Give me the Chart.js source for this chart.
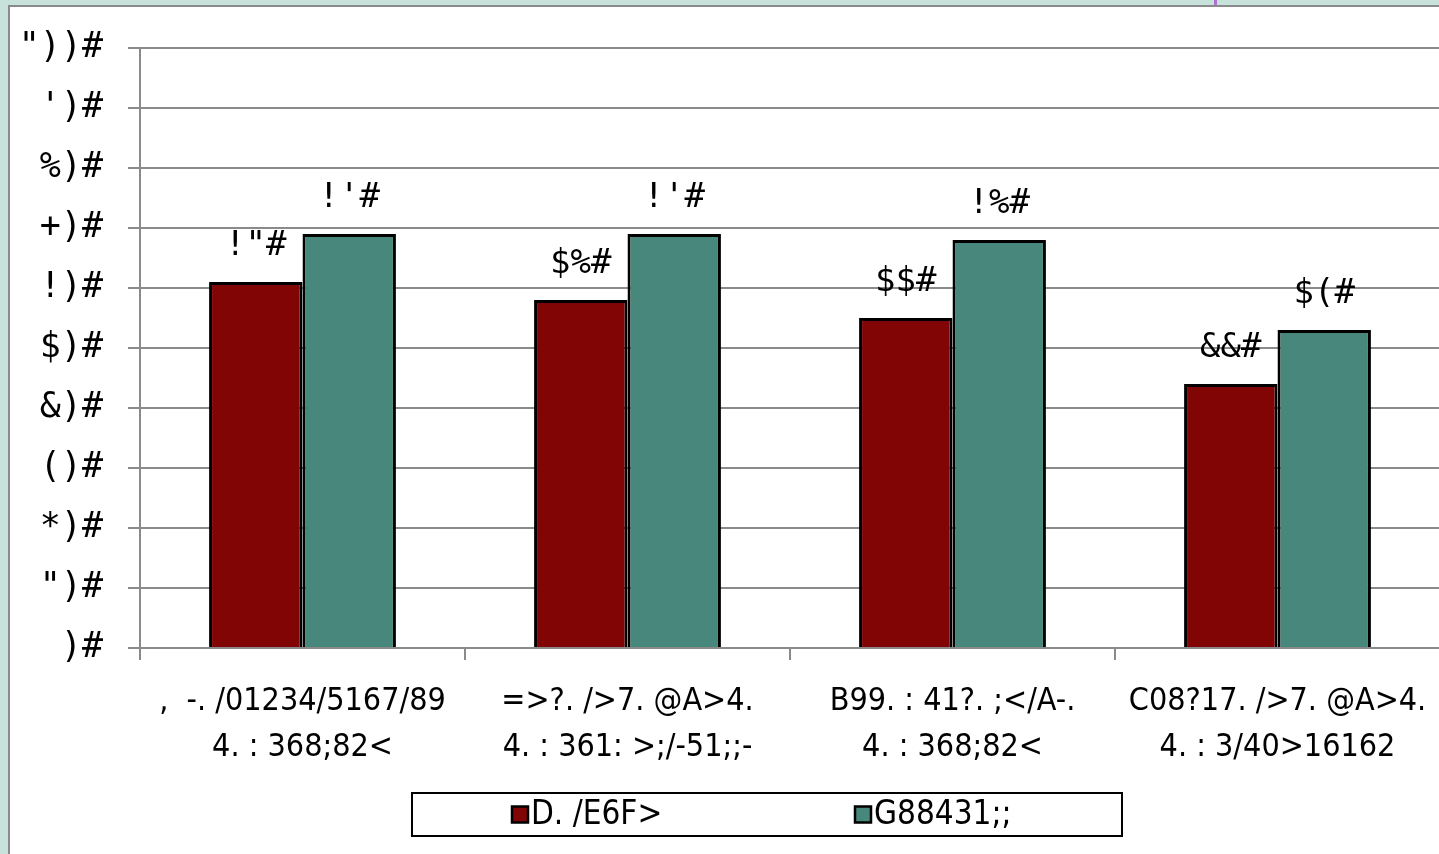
<!DOCTYPE html>
<html>
<head>
<meta charset="utf-8">
<script src="https://cdn.jsdelivr.net/npm/chart.js@4"></script>
<style>
    html, body { margin: 0; padding: 0; overflow: hidden; }
    body { background: #c6e2da; width: 1439px; height: 854px; position: relative; }
    #frame {
        position: absolute; left: 8px; top: 5px; width: 1440px; height: 860px;
        background: #fff; border-left: 2px solid #8a8a8a; border-top: 2px solid #8a8a8a;
    }
    #mark { position: absolute; left: 1214px; top: 0; width: 3px; height: 5px; background: #b070d0; }
    #gradeChart { position: absolute; left: 0; top: 0; }
</style>
</head>
<body>
<div id="mark"></div>
<div id="frame"><canvas id="gradeChart" width="1430" height="847"></canvas></div>
<script>
// values (percent)
const categories = [
    [',  -. /01234/5167/89', '4. : 368;82<'],
    ['=>?. />7. @A>4.', '4. : 361: >;/-51;;-'],
    ['B99. : 41?. ;</A-.', '4. : 368;82<'],
    ['C08?17. />7. @A>4.', '4. : 3/40>16162']
];
const seriesNames = ['D. /E6F>', 'G88431;;'];
const redValues = [61, 58, 55, 44];
const greenValues = [69, 69, 68, 53];
const yMin = 0, yMax = 100, yStep = 10;

// the source font maps digits to these glyphs, '%' shows as '#'
const digitGlyphs = [')', '"', '*', '(', '&', '$', '!', '+', '%', "'"];
function encode(n) {
    return String(n).split('').map(d => digitGlyphs[+d]).join('') + '#';
}

const labelFont = '"DejaVu Sans Condensed", "DejaVu Sans", sans-serif';
const numFont = '"DejaVu Sans Mono", monospace';

const valueLabels = {
    id: 'valueLabels',
    afterDatasetsDraw(chart) {
        const ctx = chart.ctx;
        ctx.save();
        ctx.font = '34px ' + numFont;
        ctx.fillStyle = '#000';
        ctx.textAlign = 'center';
        ctx.textBaseline = 'middle';
        chart.data.datasets.forEach((ds, i) => {
            chart.getDatasetMeta(i).data.forEach((bar, j) => {
                ctx.fillText(encode(ds.data[j]), bar.x, bar.y - 36);
            });
        });
        ctx.restore();
    }
};

const boxedLegend = {
    id: 'boxedLegend',
    afterDraw(chart) {
        const ctx = chart.ctx;
        const box = { x: 402, y: 786, w: 710, h: 43 };
        const itemX = [100, 443];
        ctx.save();
        ctx.strokeStyle = '#000';
        ctx.lineWidth = 2;
        ctx.strokeRect(box.x, box.y, box.w, box.h);
        ctx.font = 'condensed 33px ' + labelFont;
        ctx.textBaseline = 'middle';
        ctx.textAlign = 'left';
        chart.data.datasets.forEach((ds, i) => {
            const x = box.x + itemX[i];
            const cy = box.y + box.h / 2;
            ctx.fillStyle = ds.backgroundColor;
            ctx.fillRect(x, cy - 8, 16, 16);
            ctx.lineWidth = 2.5;
            ctx.strokeRect(x, cy - 8, 16, 16);
            ctx.fillStyle = '#000';
            ctx.fillText(ds.label, x + 19, cy + 1);
        });
        ctx.restore();
    }
};

const ctx = document.getElementById('gradeChart').getContext('2d');
new Chart(ctx, {
    type: 'bar',
    data: {
        labels: categories,
        datasets: [
            {
                label: seriesNames[0],
                data: redValues,
                backgroundColor: '#820505',
                borderColor: '#000',
                borderWidth: 3
            },
            {
                label: seriesNames[1],
                data: greenValues,
                backgroundColor: '#48877b',
                borderColor: '#000',
                borderWidth: 3
            }
        ]
    },
    options: {
        responsive: false,
        animation: false,
        devicePixelRatio: 1,
        categoryPercentage: 0.575,
        barPercentage: 1,
        layout: { padding: { top: 41, right: 0, bottom: 62, left: 0 } },
        scales: {
            x: {
                grid: { offset: true, drawOnChartArea: false, color: '#8a8a8a', lineWidth: 2, tickLength: 12 },
                border: { color: '#8a8a8a', width: 2 },
                ticks: {
                    color: '#000',
                    padding: 18,
                    maxRotation: 0,
                    font: { family: labelFont, weight: 'condensed', size: 32, lineHeight: 1.45 }
                },
                afterFit: s => { s.height = 144; s.paddingLeft = 0; s.paddingRight = 0; }
            },
            y: {
                min: yMin,
                max: yMax,
                ticks: {
                    stepSize: yStep,
                    color: '#000',
                    padding: 25,
                    font: { family: numFont, size: 35, lineHeight: 0.7 },
                    callback: v => encode(v)
                },
                grid: { color: '#8a8a8a', lineWidth: 2, tickLength: 12 },
                border: { color: '#8a8a8a', width: 2 },
                afterFit: s => { s.width = 130; s.paddingTop = 0; s.paddingBottom = 0; }
            }
        },
        plugins: {
            legend: { display: false },
            tooltip: { enabled: false }
        }
    },
    plugins: [valueLabels, boxedLegend]
});
</script>
</body>
</html>
